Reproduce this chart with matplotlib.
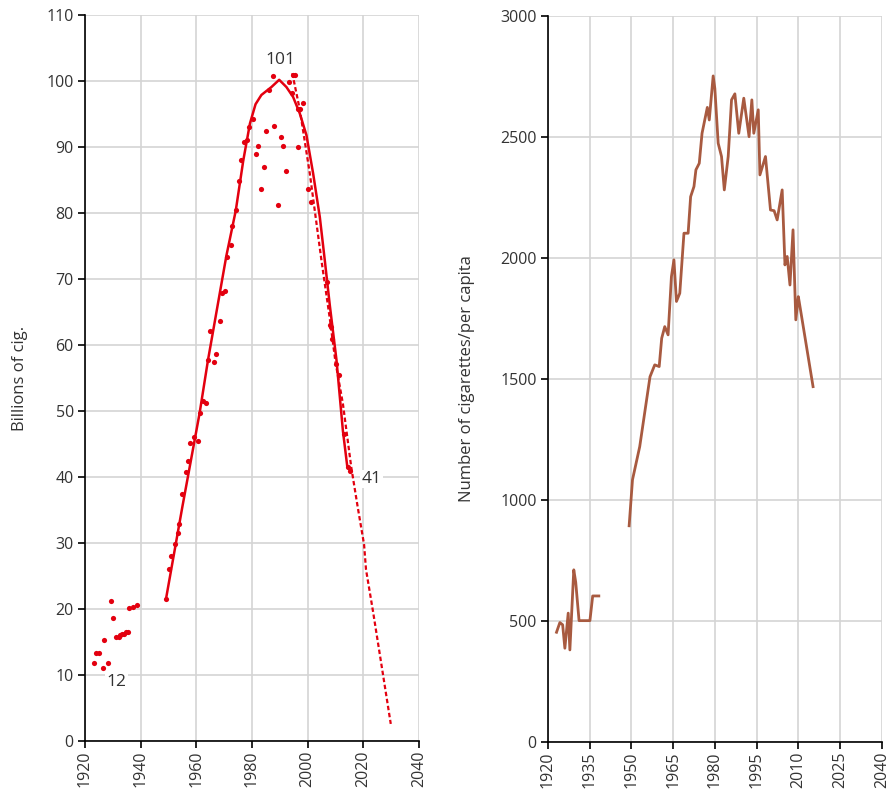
import matplotlib
matplotlib.use("Agg")
import matplotlib.pyplot as plt

plt.rcParams["font.family"] = ["Open Sans", "DejaVu Sans"]

RED = "#e3000f"
BROWN = "#a85a40"
GRID = "#d4d4d4"
TXT = "#333333"

# left panel: billions of cigarettes (scatter of yearly sales)
sales_years = [1923.3, 1923.8, 1925.0, 1926.3, 1926.9, 1928.3, 1929.3, 1929.9, 1931.0, 1932.1,
               1932.7, 1933.3, 1933.9, 1934.7, 1935.4, 1935.7, 1937.1, 1938.6,
               1949.1, 1950.3, 1951.0, 1952.2, 1953.3, 1953.9, 1954.9, 1956.3, 1957.0, 1957.9,
               1959.2, 1960.6, 1961.2, 1962.3, 1963.4, 1964.2, 1965.1, 1966.4, 1967.0, 1968.4,
               1969.3, 1970.3, 1971.2, 1972.3, 1973.0, 1974.2, 1975.5, 1976.1, 1977.2, 1978.4,
               1979.0, 1980.3, 1981.4, 1982.1, 1983.2, 1984.5, 1985.2, 1986.2, 1987.5, 1988.0,
               1989.3, 1990.4, 1991.1, 1992.4, 1993.4, 1994.3, 1994.7, 1995.4, 1996.6, 1996.7,
               1997.2, 1998.3, 2000.1, 2001.1, 2007.1, 2008.2, 2008.5, 2008.9, 2010.2, 2011.3,
               2013.0, 2014.7, 2015.3]
sales_vals = [11.8, 13.3, 13.3, 11.1, 15.3, 11.8, 21.3, 18.6, 15.8, 15.8,
              16.0, 16.2, 16.3, 16.5, 16.6, 20.1, 20.3, 20.6,
              21.5, 26.1, 28.1, 29.8, 31.5, 32.9, 37.4, 40.8, 42.4, 45.1,
              46.1, 45.4, 49.7, 51.6, 51.3, 57.7, 62.2, 57.4, 58.7, 63.7,
              67.9, 68.2, 73.3, 75.2, 78.1, 80.4, 84.9, 88.0, 90.7, 91.1,
              93.0, 94.2, 89.0, 90.2, 83.7, 87.0, 92.4, 98.7, 100.7, 93.2,
              81.2, 91.5, 90.2, 86.4, 99.8, 98.2, 101.0, 101.0, 90.0, 95.7,
              95.7, 96.7, 83.7, 81.7, 69.5, 63.1, 62.7, 60.9, 57.1, 55.4,
              46.5, 41.6, 40.9]

# smoothed trend (solid)
trend_years = [1949.1, 1955, 1961.2, 1964.2, 1970.8, 1974.2, 1976.9, 1979.3, 1981.3, 1983.4,
               1987.0, 1989.8, 1992.4, 1994.8, 1997.2, 1999.6, 2002.0, 2004.4, 2006.2, 2008.0,
               2010.4, 2012.7, 2014.3, 2015.5]
trend_vals = [21.5, 35.5, 49.7, 57.7, 73.5, 80.4, 88.0, 93.6, 96.5, 97.9,
              99.1, 100.2, 99.1, 97.6, 95.1, 91.8, 86.0, 79.4, 72.8, 66.0,
              57.7, 47.0, 41.5, 41.0]

# projection (dashed)
proj_years = [1994.5, 1997.2, 2000.8, 2005.0, 2008.0, 2010.0, 2012.7, 2015.7, 2018.0, 2020.3,
              2021.0, 2023.5, 2027.1, 2029.9]
proj_vals = [101.2, 95.7, 86.0, 72.8, 64.0, 57.5, 51.1, 41.5, 35.5, 29.8,
             26.0, 19.7, 10.1, 2.6]

# right panel: cigarettes per capita
pc_years_a = [1923.1, 1924.3, 1925.3, 1926.1, 1927.3, 1927.9, 1929.3, 1930.0, 1931.2, 1935.1,
              1936.1, 1938.3]
pc_vals_a = [453, 493, 484, 387, 532, 380, 711, 660, 501, 501,
             603, 603]
pc_years_b = [1949.2, 1950.4, 1953.0, 1955.3, 1956.7, 1958.4, 1960.0, 1960.9, 1962.0, 1963.2,
              1964.4, 1965.3, 1966.2, 1967.4, 1968.9, 1970.4, 1971.3, 1972.5, 1973.2, 1974.4,
              1975.4, 1977.3, 1978.0, 1979.4, 1980.0, 1981.2, 1982.4, 1983.4, 1984.8, 1986.0,
              1987.2, 1988.6, 1990.4, 1992.3, 1993.3, 1994.0, 1995.6, 1996.2, 1998.2, 2000.0,
              2001.3, 2002.4, 2004.2, 2005.2, 2006.0, 2007.0, 2008.1, 2009.1, 2010.0, 2010.3,
              2015.3]
pc_vals_b = [893, 1083, 1220, 1400, 1509, 1558, 1551, 1668, 1716, 1682,
             1923, 1992, 1820, 1854, 2102, 2102, 2253, 2295, 2364, 2391,
             2515, 2622, 2570, 2752, 2700, 2474, 2419, 2281, 2419, 2653,
             2678, 2515, 2660, 2501, 2653, 2515, 2612, 2343, 2419, 2198,
             2195, 2157, 2281, 1971, 2006, 1888, 2116, 1744, 1840, 1820,
             1468]

left_xticks = list(range(1920, 2041, 20))
left_yticks = list(range(0, 111, 10))
right_xticks = list(range(1920, 2041, 15))
right_yticks = list(range(0, 3001, 500))


def style(ax, xticks, yticks):
    ax.set_xticks(xticks)
    ax.set_yticks(yticks)
    ax.set_xlim(xticks[0], xticks[-1])
    ax.set_ylim(yticks[0], yticks[-1])
    ax.grid(True, color=GRID, linewidth=1.2)
    ax.set_axisbelow(True)
    for s in ["top", "right"]:
        ax.spines[s].set_visible(False)
    for s in ["left", "bottom"]:
        ax.spines[s].set_color("black")
        ax.spines[s].set_linewidth(1.2)
    ax.tick_params(axis="x", rotation=90, length=5, width=1.2, labelsize=11.5, labelcolor=TXT, pad=2)
    ax.tick_params(axis="y", length=5, width=1.2, labelsize=11.5, labelcolor=TXT, pad=3)


fig = plt.figure(figsize=(8.88, 7.96), dpi=100)
ax1 = fig.add_axes([0.0957, 0.069, 0.376, 0.912])
ax2 = fig.add_axes([0.617, 0.068, 0.376, 0.912])

style(ax1, left_xticks, left_yticks)
ax1.plot(trend_years, trend_vals, color=RED, linewidth=1.8, zorder=3)
ax1.plot(proj_years, proj_vals, color=RED, linewidth=1.6, linestyle=(0, (2, 1.2)), zorder=3)
ax1.scatter(sales_years, sales_vals, color=RED, s=14, zorder=4, linewidths=0)
box = dict(facecolor="white", edgecolor="none", pad=1)
ax1.text(1990.2, 103.2, "101", fontsize=12.5, color=TXT, ha="center", va="center")
ax1.text(2019.3, 39.7, "41", fontsize=12.5, color=TXT, ha="left", va="center", bbox=box)
ax1.text(1931.3, 8.9, "12", fontsize=12.5, color=TXT, ha="center", va="center", bbox=box)
ax1.set_ylabel("Billions of cig.", fontsize=12, color=TXT, labelpad=13)

style(ax2, right_xticks, right_yticks)
ax2.plot(pc_years_a, pc_vals_a, color=BROWN, linewidth=2, solid_joinstyle="round")
ax2.plot(pc_years_b, pc_vals_b, color=BROWN, linewidth=2, solid_joinstyle="round")
ax2.set_ylabel("Number of cigarettes/per capita", fontsize=12, color=TXT, labelpad=18)

fig.savefig("out.png", dpi=100)
